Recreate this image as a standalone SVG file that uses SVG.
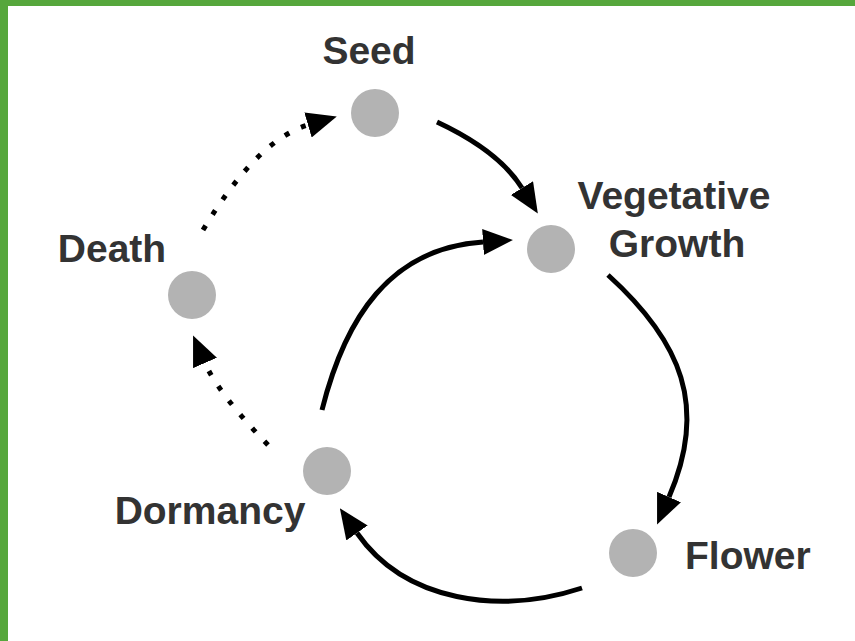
<svg xmlns="http://www.w3.org/2000/svg" width="855" height="641" viewBox="0 0 855 641">
  <style>
    .node { fill: #b3b3b3; }
    .label { font-family: "Liberation Sans", Arial, sans-serif; font-weight: bold; font-size: 39px; fill: #333333; }
    .edge { fill: none; stroke: #000000; stroke-width: 5; }
    .dotted { stroke-dasharray: 5 13; }
  </style>
  <defs>
    <marker id="arrow" markerUnits="userSpaceOnUse" markerWidth="30" markerHeight="26" viewBox="0 0 30 26" refX="0" refY="13" orient="auto">
      <path d="M0,0 L30,13 L0,26 Z" fill="#000000"/>
    </marker>
  </defs>
  <rect x="0" y="0" width="855" height="641" fill="#ffffff"/>
  <rect x="0" y="0" width="855" height="6" fill="#56a73c"/>
  <rect x="0" y="0" width="8" height="641" fill="#56a73c"/>

  <g id="connectors">
    <path class="edge" d="M437,122 Q499,151 522,188" marker-end="url(#arrow)"/>
    <path class="edge" d="M608,275 C682,342 708,407 669,497" marker-end="url(#arrow)"/>
    <path class="edge" d="M582,588 C500,615 405,602 357,533" marker-end="url(#arrow)"/>
    <path class="edge" d="M322,410 C345,318 390,248 483,242" marker-end="url(#arrow)"/>
    <path class="edge dotted" d="M268,445 Q218,393 205,363" marker-end="url(#arrow)"/>
    <path class="edge dotted" d="M203,230 Q257,140 308,125" marker-end="url(#arrow)"/>
  </g>

  <g id="seed">
    <circle class="node" cx="375" cy="113" r="24"/>
    <text class="label" x="369" y="64" text-anchor="middle">Seed</text>
  </g>
  <g id="vegetative-growth">
    <circle class="node" cx="551" cy="249" r="24"/>
    <text class="label" x="674" y="209" text-anchor="middle">Vegetative</text>
    <text class="label" x="677" y="257" text-anchor="middle">Growth</text>
  </g>
  <g id="flower">
    <circle class="node" cx="633" cy="553" r="24"/>
    <text class="label" x="685" y="569">Flower</text>
  </g>
  <g id="dormancy">
    <circle class="node" cx="327" cy="471" r="24"/>
    <text class="label" x="210" y="524" text-anchor="middle">Dormancy</text>
  </g>
  <g id="death">
    <circle class="node" cx="192" cy="295" r="24"/>
    <text class="label" x="112" y="262" text-anchor="middle">Death</text>
  </g>
</svg>
